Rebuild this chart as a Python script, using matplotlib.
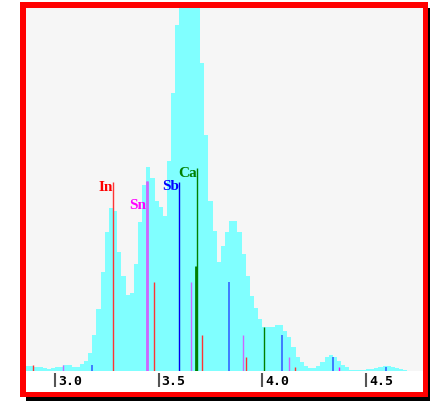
import numpy as np
import matplotlib
matplotlib.use("Agg")
import matplotlib.pyplot as plt
from matplotlib.patches import Rectangle
from matplotlib import transforms

# spectrum counts, 0.02 keV bins starting at 2.86 keV
bin_lo = 2.86
bin_width = 0.02
counts = [5, 5, 4, 4, 3, 2, 3, 4, 4, 6,
          6, 4, 4, 7, 10, 18, 36, 62, 99, 139,
          163, 160, 119, 95, 76, 78, 107, 149, 186, 204,
          193, 170, 164, 155, 210, 278, 346, 400, 450, 470,
          430, 390, 308, 236, 170, 140, 109, 125, 139, 150,
          150, 139, 117, 95, 75, 63, 52, 44, 44, 44,
          46, 46, 40, 34, 24, 14, 9, 5, 3, 3,
          5, 9, 14, 16, 14, 10, 6, 4, 1, 1,
          1, 1, 2, 2, 3, 4, 5, 5, 4, 3,
          2, 1, 0, 0, 0, 0]

# element line markers: energies (keV) and marker heights
in_e = [2.894, 3.280, 3.479, 3.711, 3.920, 4.158]
in_h = [6, 189, 89, 36, 14, 4]
sn_e = [3.037, 3.444, 3.656, 3.905, 4.129, 4.371]
sn_h = [6, 190, 89, 36, 14, 4]
sb_e = [3.180, 3.600, 3.839, 4.096, 4.342, 4.597]
sb_h = [6, 189, 89, 36, 14, 4]
ca_e = [3.682, 3.687, 4.010]
ca_h = [105, 203, 44]

tick_vals = [3.0, 3.5, 4.0, 4.5]
tick_labels = ["3.0", "3.5", "4.0", "4.5"]

W, H = 430, 402
fig = plt.figure(figsize=(W / 100, H / 100), dpi=100)
fig.patch.set_facecolor("white")


def box(x0, y0, x1, y1, color):
    # rectangle in pixel coords (origin top-left)
    fig.patches.append(Rectangle((x0 / W, 1 - y1 / H), (x1 - x0) / W, (y1 - y0) / H,
                                 transform=fig.transFigure, color=color, lw=0, zorder=0))


# shadow and red border
box(428, 9, 430, 402, "black")
box(26, 398, 430, 402, "black")
box(20, 3, 428, 9, "#ff0000")
box(20, 393, 428, 398, "#ff0000")
box(20, 3, 26, 398, "#ff0000")
box(423, 3, 428, 398, "#ff0000")

ax = fig.add_axes([26 / W, 1 - 372 / H, 397 / W, 363 / H])
ax.set_facecolor("#f6f6f6")
for s in ax.spines.values():
    s.set_visible(False)

edges = bin_lo + bin_width * np.arange(len(counts))
ax.bar(edges, counts, width=bin_width, align="edge", color="#80ffff", lw=0, zorder=1)

ax.vlines(in_e, 0, in_h, color="#ff3333", lw=1, zorder=3)
ax.vlines(sn_e[:5], 0, sn_h[:5], color="#cc66ff", lw=1, zorder=3)
ax.vlines(sn_e[1], 0, sn_h[1], color="#cc66ff", lw=2, zorder=3)
ax.vlines(sn_e[5], 0, sn_h[5], color="#ff00ff", lw=1, zorder=3)
ax.vlines(sb_e[1], 0, sb_h[1], color="#0000ee", lw=1, zorder=3)
ax.vlines(sb_e[:1] + sb_e[2:], 0, sb_h[:1] + sb_h[2:], color="#3366ff", lw=1.2, zorder=3)
ax.vlines(ca_e[0], 0, ca_h[0], color="#008000", lw=2, zorder=3)
ax.vlines(ca_e[1:], 0, ca_h[1:], color="#008000", lw=1, zorder=3)

lab = dict(family="Liberation Serif", fontweight="bold", fontsize=11, va="top", ha="right", zorder=4)
ax.text(in_e[1] - 0.001, in_h[1] + 2, "In", color="#ff0000", **lab)
ax.text(sn_e[1] - 0.003, 173, "Sn", color="#ff00ff", **lab)
ax.text(sb_e[1] - 0.004, sb_h[1] + 3, "Sb", color="#0000ff", **lab)
ax.text(ca_e[1] - 0.003, ca_h[1] + 2, "Ca", color="#008000", **lab)

ax.set_xlim(2.86, 4.775)
ax.set_ylim(0, 363)
ax.set_xticks([])
ax.set_yticks([])

# ticks drawn as bars with the label to their right
xt = ax.get_xaxis_transform()
ax.vlines(tick_vals, -0.006, -0.044, transform=xt, color="#555555", lw=1.5, clip_on=False)
lbl_tr = transforms.offset_copy(xt, fig=fig, x=3, y=0, units="dots")
for v, t in zip(tick_vals, tick_labels):
    ax.text(v, -0.027, t, transform=lbl_tr, ha="left", va="center",
            family="DejaVu Sans Mono", fontweight="bold", fontsize=9.5, color="black")

fig.savefig("out.png", dpi=100)
